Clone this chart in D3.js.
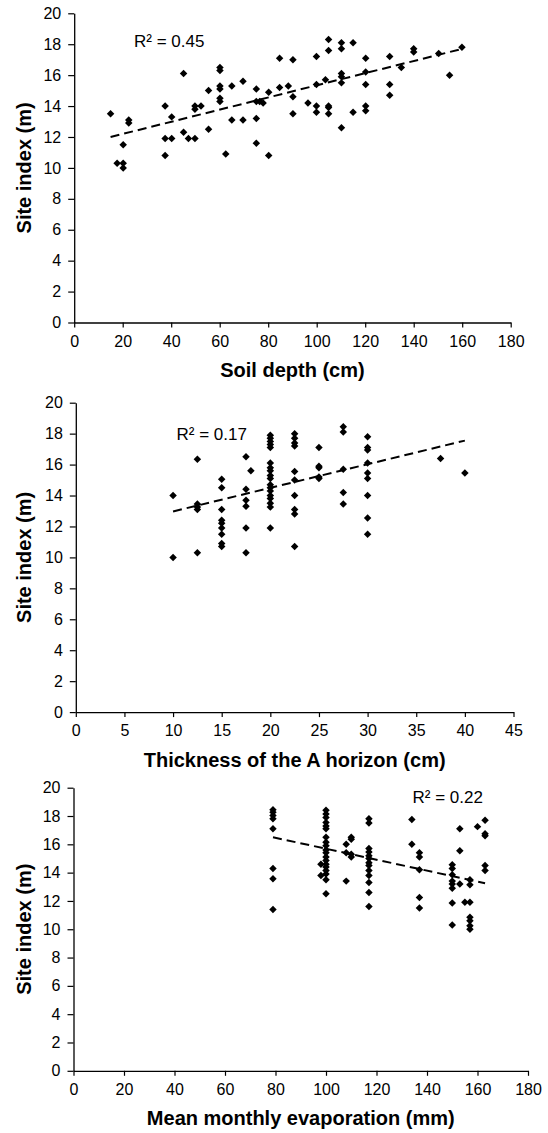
<!DOCTYPE html>
<html><head><meta charset="utf-8">
<script src="https://cdn.jsdelivr.net/npm/d3@7"></script>
<style>
html,body{margin:0;padding:0;background:#fff;}
svg{display:block;}
text{font-family:"Liberation Sans", Arial, Helvetica, sans-serif;fill:#000;}
</style></head><body>
<svg id="chart" width="548" height="1133"></svg>
<script>
// ---------- DATA ----------
const siteIndexTicks = [0, 2, 4, 6, 8, 10, 12, 14, 16, 18, 20];
const yTitle = "Site index (m)";

// Panel 1: soil depth
const depthTicks = [0, 20, 40, 60, 80, 100, 120, 140, 160, 180];
const depthTitle = "Soil depth (cm)";
const depthR2 = "R² = 0.45";
const depthX = [15.0,17.7,20.2,20.2,20.2,22.5,22.5,37.5,37.5,37.5,40.2,40.2,45.1,45.1,47.1,49.8,49.8,49.8,52.3,55.4,55.4,
  60.1,60.1,60.1,60.1,60.1,60.1,62.5,65.0,65.0,69.6,69.6,75.1,75.1,75.1,75.1,76.5,77.9,80.2,80.2,84.7,84.7,88.3,
  90.2,90.2,90.2,96.4,99.9,99.9,99.9,99.9,103.6,104.9,104.9,104.9,104.9,104.9,110.2,110.2,110.2,110.2,110.2,110.2,
  115.0,115.0,120.2,120.2,120.2,120.2,120.2,130.1,130.1,130.1,134.9,140.0,140.0,150.3,154.8,159.9];
const depthY = [13.5,10.3,10.3,10.0,11.5,13.1,12.9,14.0,11.9,10.8,13.3,11.9,16.1,12.3,11.9,14.0,13.8,11.9,14.0,12.5,15.0,
  16.5,16.3,15.3,15.1,14.5,14.3,10.9,15.3,13.1,15.6,13.1,15.1,14.3,13.2,11.6,14.3,14.2,14.9,10.8,17.1,15.2,15.3,
  17.0,14.6,13.5,14.2,17.2,15.4,14.0,13.6,15.7,18.3,17.6,14.0,13.9,13.5,18.1,17.7,16.1,15.9,15.5,12.6,
  18.1,13.6,17.1,16.2,15.4,14.0,13.7,17.2,15.4,14.7,16.5,17.7,17.5,17.4,16.0,17.8];
const depthTrendX = [15, 160];
const depthTrendY = [12.0, 17.7];

// Panel 2: thickness of the A horizon
const horizonTicks = [0, 5, 10, 15, 20, 25, 30, 35, 40, 45];
const horizonTitle = "Thickness of the A horizon (cm)";
const horizonR2 = "R² = 0.17";
const horizonX = [10,10,
  12.5,12.5,12.5,12.5,12.5,
  15,15,15,15,15,15,15,15,15,
  17.5,17.5,17.5,17.5,17.5,17.5,18,
  20,20,20,20,20,20,20,20,20,20,20,20,20,20,20,20,20,20,
  22.5,22.5,22.5,22.5,22.5,22.5,22.5,22.5,22.5,22.5,
  25,25,25,25,25,
  27.5,27.5,27.5,27.5,27.5,
  30,30,30,30,30,30,30,30,30,
  37.5,40];
const horizonY = [14.0,10.0,
  16.35,13.45,13.25,13.1,10.3,
  15.05,14.5,13.1,12.4,12.2,11.9,11.5,10.9,10.7,
  16.5,14.4,13.7,13.3,11.9,10.3,15.6,
  17.9,17.7,17.5,17.3,17.1,16.1,15.8,15.6,15.3,15.1,14.7,14.5,14.3,14.0,13.8,13.5,13.25,11.9,
  18.0,17.7,17.4,17.2,15.55,15.0,14.0,13.1,12.8,10.7,
  17.1,15.9,15.8,15.2,15.1,
  18.45,18.1,15.7,14.2,13.45,
  17.8,17.1,16.95,16.1,15.45,15.1,14.0,12.55,11.5,
  16.4,15.45];
const horizonTrendX = [10, 40];
const horizonTrendY = [12.97, 17.55];

// Panel 3: mean monthly evaporation
const evapTicks = [0, 20, 40, 60, 80, 100, 120, 140, 160, 180];
const evapTitle = "Mean monthly evaporation (mm)";
const evapR2 = "R² = 0.22";
const evapX = [79,79,79,79,79,79,79,79,
  100,100,100,100,100,100,100,100,100,100,100,100,100,100,100,100,100,100,100,98,98,
  108,108,108,110,110,110,110,
  117,117,117,117,117,117,117,117,117,117,117,117,117,
  134,134,137,137,137,137,137,
  150,150,150,150,150,150,150,150,
  153,153,153,
  157,157,157,157,157,157,157,155,
  160,163,163,163,163,163];
const evapY = [18.45,18.26,18.03,17.8,17.1,14.3,13.56,11.4,
  18.4,18.15,17.9,17.55,17.3,17.1,16.5,16.15,15.9,15.6,15.4,15.1,14.85,14.6,14.4,14.15,13.9,13.5,12.5,14.6,13.8,
  16.0,15.4,13.4,16.5,16.35,15.3,15.1,
  17.8,17.5,15.7,15.45,15.2,15.0,14.7,14.5,14.15,13.8,13.3,12.6,11.6,
  17.75,16.0,15.4,15.1,14.2,12.25,11.5,
  14.55,14.3,13.85,13.4,13.2,12.9,11.85,10.3,
  17.1,15.55,13.2,
  13.5,13.15,11.9,10.85,10.6,10.25,10.0,11.9,
  17.25,17.7,16.75,16.6,14.5,14.15];
const evapTrendX = [79, 163];
const evapTrendY = [16.5, 13.25];

// ---------- LAYOUT ----------
const panels = [
  {xs: depthX, ys: depthY, tx: depthTrendX, ty: depthTrendY, ticks: depthTicks, title: depthTitle, r2: depthR2,
   left: 74.2, right: 510.7, top: 13.3, bottom: 322.5, r2x: 134, r2y: 46.7},
  {xs: horizonX, ys: horizonY, tx: horizonTrendX, ty: horizonTrendY, ticks: horizonTicks, title: horizonTitle, r2: horizonR2,
   left: 75.8, right: 513.5, top: 402.7, bottom: 712.1, r2x: 176.5, r2y: 440},
  {xs: evapX, ys: evapY, tx: evapTrendX, ty: evapTrendY, ticks: evapTicks, title: evapTitle, r2: evapR2,
   left: 73.5, right: 528, top: 787.7, bottom: 1070.8, r2x: 412.5, r2y: 802.5}
];

const svg = d3.select("#chart");
const diamond = d3.symbol().type(d3.symbolSquare).size(28)();

panels.forEach(p => {
  const x = d3.scaleLinear().domain([p.ticks[0], p.ticks[p.ticks.length - 1]]).range([p.left, p.right]);
  const y = d3.scaleLinear().domain([0, 20]).range([p.bottom, p.top]);
  const g = svg.append("g");

  const xAxis = g.append("g").attr("transform", `translate(0,${p.bottom})`)
    .call(d3.axisBottom(x).tickValues(p.ticks).tickFormat(d3.format("d")).tickSize(5).tickSizeOuter(0).tickPadding(8));
  const yAxis = g.append("g").attr("transform", `translate(${p.left},0)`)
    .call(d3.axisLeft(y).tickValues(siteIndexTicks).tickFormat(d3.format("d")).tickSize(6).tickSizeOuter(0).tickPadding(7));
  [xAxis, yAxis].forEach(a => {
    a.selectAll("path.domain").attr("stroke", "#000").attr("stroke-width", 1.3);
    a.selectAll(".tick line").attr("stroke", "#000").attr("stroke-width", 1.2);
    a.selectAll(".tick text").attr("font-size", 16).attr("font-family", '"Liberation Sans", Arial, sans-serif').attr("fill", "#000");
  });

  // points
  g.append("g").selectAll("path").data(p.xs.map((v, i) => [v, p.ys[i]])).join("path")
    .attr("d", diamond)
    .attr("transform", d => `translate(${x(d[0])},${y(d[1])}) rotate(45)`)
    .attr("fill", "#000");

  // trend line
  g.append("path")
    .datum(p.tx.map((v, i) => [v, p.ty[i]]))
    .attr("d", d3.line().x(d => x(d[0])).y(d => y(d[1])))
    .attr("fill", "none").attr("stroke", "#000").attr("stroke-width", 2)
    .attr("stroke-dasharray", "9,5");

  // R2 label
  g.append("text").attr("x", p.r2x).attr("y", p.r2y).attr("font-size", 17).text(p.r2);

  // axis titles
  g.append("text").attr("x", (p.left + p.right) / 2).attr("y", p.bottom + 54.5)
    .attr("text-anchor", "middle").attr("font-size", 20).attr("font-weight", "bold").text(p.title);
  g.append("text").attr("transform", `translate(31,${(p.top + p.bottom) / 2}) rotate(-90)`)
    .attr("text-anchor", "middle").attr("font-size", 20).attr("font-weight", "bold").text(yTitle);
});
</script>
</body></html>
